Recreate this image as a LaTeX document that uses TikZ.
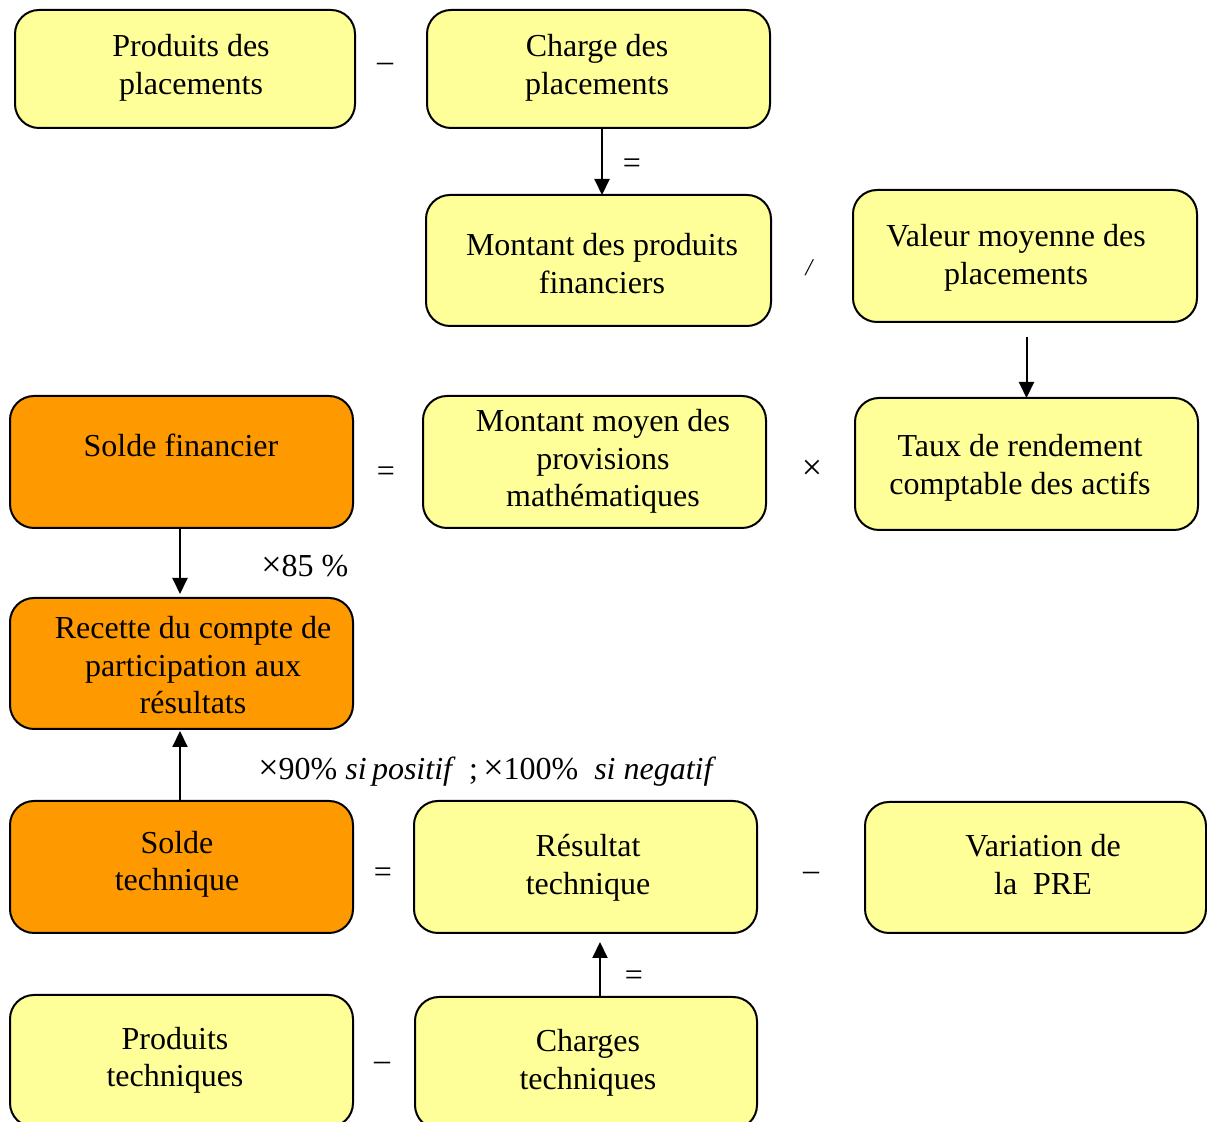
\documentclass[tikz,border=0pt]{standalone}
\usepackage{fontspec}
\setmainfont{Liberation Serif}
\usetikzlibrary{arrows.meta}
\definecolor{paleyellow}{HTML}{FFFF99}
\definecolor{amber}{HTML}{FF9900}
\begin{document}
\begin{tikzpicture}[x=0.5pt,y=-0.5pt,
  box/.style={draw, line width=1pt, rounded corners=12pt, inner sep=0pt, outer sep=0pt},
  ybox/.style={box, fill=paleyellow},
  obox/.style={box, fill=amber},
  % texts are placed by the baseline of their last line
  txt/.style={font=\fontsize{16}{18.7}\selectfont, align=center, anchor=base, inner sep=0pt},
  op/.style={font=\fontsize{16}{18.7}\selectfont, inner sep=0pt},
  arr/.style={line width=1pt, -{Triangle[width=7.5pt,length=8pt]}}]
\useasboundingbox (0,0) rectangle (1207,1122);

% boxes
\node[ybox, minimum width=170pt, minimum height=59pt]   (b1)  at (185,69) {};
\node[ybox, minimum width=171.5pt, minimum height=59pt] (b2)  at (598.5,69) {};
\node[ybox, minimum width=172.5pt, minimum height=65.5pt] (b3) at (598.5,260.5) {};
\node[ybox, minimum width=172pt, minimum height=66pt]   (b4)  at (1025,256) {};
\node[obox, minimum width=171.5pt, minimum height=66pt] (b5)  at (181.5,462) {};
\node[ybox, minimum width=171.5pt, minimum height=66pt] (b6)  at (594.5,462) {};
\node[ybox, minimum width=171.5pt, minimum height=66pt] (b7)  at (1026.5,464) {};
\node[obox, minimum width=171.5pt, minimum height=65.5pt] (b8) at (181.5,663.5) {};
\node[obox, minimum width=171.5pt, minimum height=66pt] (b9)  at (181.5,867) {};
\node[ybox, minimum width=171.5pt, minimum height=66pt] (b10) at (585.5,867) {};
\node[ybox, minimum width=170.5pt, minimum height=65.5pt] (b11) at (1035.5,867.5) {};
\node[ybox, minimum width=171.5pt, minimum height=66pt] (b12) at (181.5,1061) {};
\node[ybox, minimum width=171pt, minimum height=66pt]   (b13) at (586,1063) {};

% box texts
\node[txt] (t1)  at (191,94.4)   {Produits des\\placements};
\node[txt] (t2)  at (597,94.4)   {Charge des\\placements};
\node[txt] (t3)  at (602,293.4)  {Montant des produits\\financiers};
\node[txt] (t4)  at (1016,284.4) {Valeur moyenne des\\placements};
\node[txt] (t5)  at (181,457)    {Solde financier};
\node[txt] (t6)  at (603,506.8)  {Montant moyen des\\provisions\\mathématiques};
\node[txt] (t7)  at (1020,494.4) {Taux de rendement\\comptable des actifs};
\node[txt] (t8)  at (193,713.8)  {Recette du compte de\\participation aux\\résultats};
\node[txt] (t9)  at (177,891)    {Solde\\technique};
\node[txt] (t10) at (588,894.4)  {Résultat\\technique};
\node[txt] (t11) at (1043,894.4) {Variation de\\la\ \ PRE};
\node[txt] (t12) at (175,1087)   {Produits\\techniques};
\node[txt] (t13) at (588,1089.4) {Charges\\techniques};

% operators between boxes
\node[op] (o1)  at (385,67)   {–};
\node[op] (o2)  at (632,166)  {=};
\node[op] (o3)  at (809,268)  {\fontsize{12}{14}\selectfont\itshape /};
\node[op] (o4)  at (386,474)  {=};
\node[op] (o5)  at (812,470)  {\fontsize{18}{20}\selectfont ×};
\node[op] (o6)  at (383,875)  {=};
\node[op] (o7)  at (811,876)  {–};
\node[op] (o8)  at (382,1066) {–};
\node[op] (o9)  at (634,978)  {=};
\node[op, anchor=west] (o10) at (261,566) {{\fontsize{18}{20}\selectfont ×}85 \%};
\node[op, anchor=west] (o11) at (258,772)
  {{\fontsize{18}{20}\selectfont ×}90\% \textit{si\,positif}\ \,;\,{\fontsize{18}{20}\selectfont ×}100\%\ \ \textit{si negatif}};

% connectors
\coordinate (a2s) at (1026.5,337);
\draw[arr] ([xshift=1.75pt]b2.south) -- ([xshift=1.75pt]b3.north);
\draw[arr] (a2s) -- (b7.north);
\draw[arr] ([xshift=-0.75pt]b5.south) -- ([xshift=-0.75pt,yshift=2pt]b8.north);
\draw[arr] ([xshift=-0.75pt]b9.north) -- ([xshift=-0.75pt,yshift=-1pt]b8.south);
\draw[arr] ([xshift=7pt]b13.north) -- ([xshift=7.25pt,yshift=-4.5pt]b10.south);
\end{tikzpicture}
\end{document}
